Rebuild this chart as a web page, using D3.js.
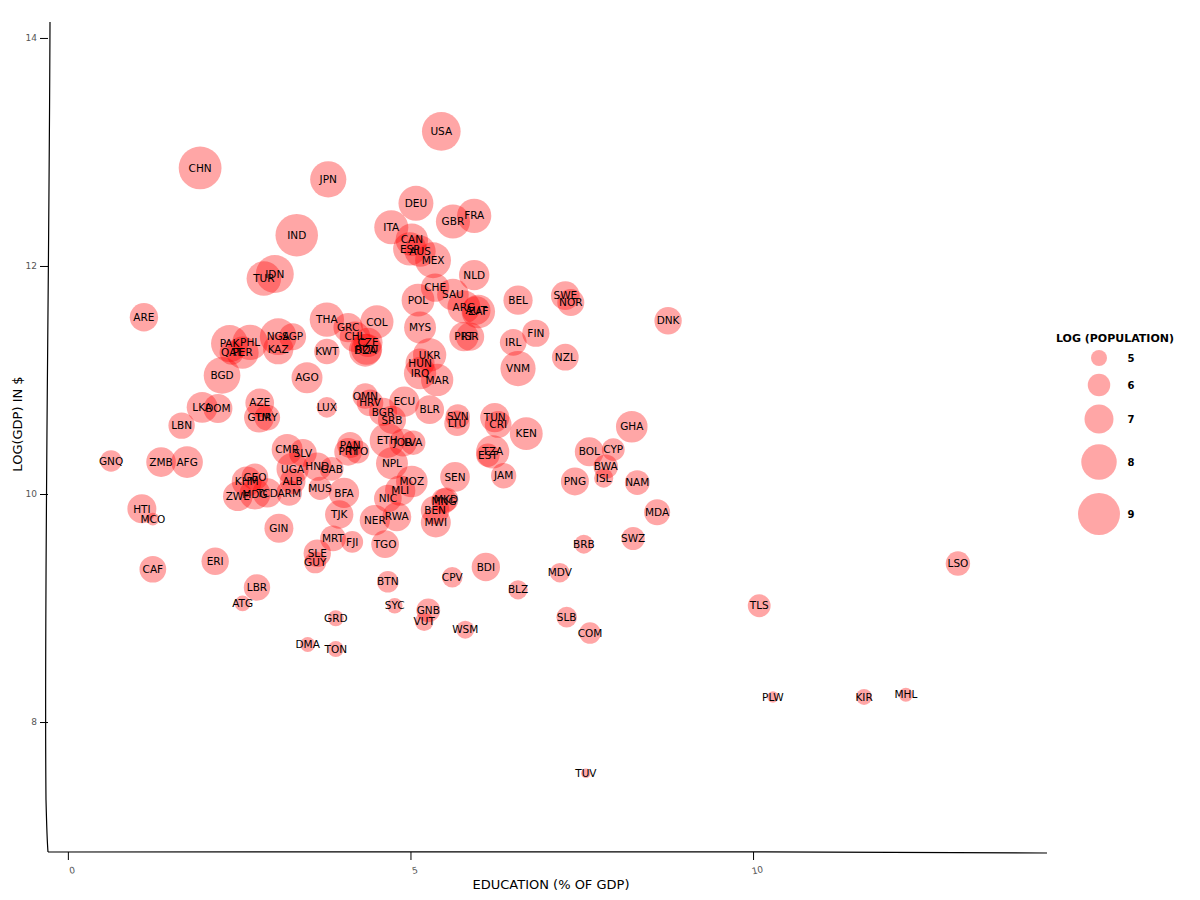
<!DOCTYPE html>
<html><head><meta charset="utf-8">
<script src="https://cdn.jsdelivr.net/npm/d3@7"></script>
<style>body{margin:0;background:#fff}svg{display:block}</style>
</head><body>
<svg id="chart" width="1200" height="900"></svg>
<script>
// country codes, education (% of GDP), log10 GDP, log10 population
const codes = ["CHN","IND","IDN","TUR","USA","JPN","DEU","FRA","GBR","ITA","CAN","ESP","AUS","MEX","NLD","CHE","SAU","POL","ARG","ZAF","AUT","PRT","ISR","COL","GRC","CHL","CZE","DZA","ROU","MYS","THA","KWT","UKR","HUN","IRQ","MAR","BEL","IRL","FIN","VNM","OMN","HRV","ECU","BGR","SRB","BLR","LUX","SVN","LTU","TUN","CRI","KEN","ETH","JOR","LVA","PAN","PRY","TTO","TZA","EST","ARE","PAK","PHL","QAT","PER","NGA","SGP","KAZ","BGD","AGO","LKA","DOM","LBN","AZE","GTM","URY","CMR","SLV","GNQ","ZMB","AFG","HTI","MCO","CAF","ERI","LBR","ATG","GIN","SLE","GUY","KHM","GEO","ZWE","MDG","TCD","ARM","ALB","UGA","HND","MUS","GAB","NPL","MOZ","MLI","NIC","BFA","TJK","NER","RWA","MRT","FJI","TGO","SEN","MNG","MKD","BEN","MWI","JAM","BDI","CPV","BTN","BLZ","SYC","GNB","VUT","WSM","GRD","DMA","TON","MDV","SLB","COM","TUV","BOL","CYP","BWA","ISL","PNG","NAM","MDA","SWZ","BRB","GHA","DNK","SWE","NOR","NZL","LSO","TLS","PLW","KIR","MHL"];
const education = [1.93,3.34,3.02,2.86,5.45,3.80,5.08,5.93,5.62,4.72,5.02,4.99,5.14,5.33,5.93,5.36,5.62,5.11,5.78,5.99,5.96,5.78,5.87,4.51,4.09,4.19,4.38,4.34,4.36,5.14,3.78,3.78,5.28,5.14,5.14,5.39,6.57,6.50,6.83,6.57,4.34,4.41,4.91,4.60,4.73,5.28,3.78,5.69,5.68,6.23,6.28,6.69,4.66,4.89,5.04,4.12,4.09,4.23,6.20,6.13,1.11,2.36,2.66,2.39,2.55,3.07,3.28,3.07,2.25,3.49,1.96,2.19,1.66,2.80,2.79,2.91,3.20,3.43,0.63,1.36,1.74,1.08,1.24,1.24,2.15,2.76,2.55,3.08,3.64,3.61,2.61,2.73,2.48,2.73,2.91,3.23,3.28,3.28,3.64,3.68,3.85,4.73,5.02,4.85,4.67,4.03,3.96,4.48,4.80,3.87,4.15,4.63,5.65,5.49,5.52,5.36,5.37,6.36,6.10,5.61,4.67,6.57,4.77,5.26,5.20,5.80,3.91,3.50,3.91,7.18,7.28,7.62,7.56,7.61,7.96,7.85,7.82,7.40,8.31,8.60,8.25,7.53,8.23,8.76,7.26,7.34,7.26,12.99,10.09,10.29,11.62,12.23];
const logGDP = [12.86,12.27,11.93,11.89,13.18,12.76,12.55,12.44,12.39,12.34,12.23,12.15,12.13,12.05,11.92,11.81,11.75,11.70,11.64,11.60,11.61,11.38,11.38,11.51,11.46,11.38,11.33,11.26,11.27,11.46,11.53,11.25,11.22,11.15,11.06,11.00,11.70,11.33,11.41,11.10,10.86,10.80,10.81,10.72,10.65,10.74,10.76,10.68,10.62,10.67,10.61,10.53,10.47,10.45,10.45,10.43,10.37,10.37,10.37,10.34,11.55,11.32,11.33,11.24,11.24,11.38,11.38,11.27,11.04,11.02,10.76,10.75,10.60,10.80,10.67,10.67,10.39,10.36,10.29,10.28,10.28,9.87,9.78,9.34,9.41,9.18,9.04,9.70,9.48,9.40,10.11,10.15,9.98,10.00,10.01,10.01,10.11,10.22,10.24,10.05,10.22,10.27,10.11,10.03,9.96,10.01,9.82,9.77,9.80,9.61,9.58,9.56,10.15,9.94,9.95,9.86,9.75,10.16,9.36,9.27,9.23,9.16,9.02,8.98,8.88,8.81,8.91,8.68,8.64,9.31,8.92,8.78,7.55,10.37,10.39,10.24,10.14,10.11,10.10,9.84,9.61,9.56,10.59,11.52,11.74,11.68,11.20,9.39,9.02,8.22,8.22,8.24];
const logPop = [9.13,9.08,8.38,7.85,8.49,8.11,7.91,7.81,7.79,7.78,7.53,7.67,7.34,8.05,7.22,6.90,7.40,7.58,7.60,7.70,6.93,7.02,6.88,7.65,7.05,7.23,7.02,7.55,7.33,7.45,7.82,6.45,7.66,7.00,7.50,7.50,7.04,6.65,6.73,7.95,6.45,6.63,7.17,6.86,6.86,6.98,5.70,6.30,6.47,7.02,6.66,7.60,7.93,6.80,6.30,6.55,6.80,6.13,7.65,6.13,6.90,8.24,7.98,6.25,7.47,8.20,6.70,7.20,8.18,7.30,7.30,7.00,6.60,6.95,7.15,6.50,7.30,6.80,5.85,7.10,7.40,7.00,4.50,6.65,6.75,6.60,4.95,7.00,6.75,5.90,7.15,6.65,7.10,7.30,7.05,6.50,6.50,7.50,6.90,6.10,6.20,7.45,7.40,7.20,6.80,7.20,6.90,7.20,7.00,6.50,5.90,6.80,7.10,6.45,6.30,6.95,7.15,6.43,6.90,5.70,5.85,5.50,4.95,6.20,5.40,5.30,5.00,4.85,5.00,5.55,5.70,5.85,4.00,7.00,6.05,6.30,5.50,6.85,6.35,6.55,6.10,5.45,7.40,6.75,6.95,6.70,6.65,6.30,6.05,4.30,5.00,4.70];
const xTicks = [0,5,10];
const yTicks = [8,10,12,14];
const legendValues = [5,6,7,8,9];

const data = codes.map((c,i)=>({code:c, edu:education[i], gdp:logGDP[i], pop:logPop[i]}));
const svg = d3.select("#chart");
const font = "'DejaVu Sans', sans-serif";

const x = d3.scaleLinear().domain([-0.29,14.29]).range([48,1047]);
const y = d3.scaleLinear().domain([6.86,14.14]).range([852,22]);
const r = d3.scaleLinear().domain([5,9]).range([8,21]);

// points
const g = svg.append("g");
g.selectAll("circle").data(data).enter().append("circle")
  .attr("cx",d=>x(d.edu)).attr("cy",d=>y(d.gdp)).attr("r",d=>r(d.pop))
  .attr("fill","#ff0000").attr("fill-opacity",0.35);
g.selectAll("text").data(data).enter().append("text")
  .attr("x",d=>x(d.edu)).attr("y",d=>y(d.gdp)).attr("dy","0.35em")
  .attr("text-anchor","middle").attr("font-family",font).attr("font-size",10.5)
  .attr("fill","#000").text(d=>d.code);

// axes
const xAxis = svg.append("g").attr("transform","translate(0,852)")
  .call(d3.axisBottom(x).tickValues(xTicks).tickSize(8).tickFormat(d3.format("d")));
const yAxis = svg.append("g").attr("transform","translate(48,0)")
  .call(d3.axisLeft(y).tickValues(yTicks).tickSize(8).tickFormat(d3.format("d")));
[xAxis,yAxis].forEach(a=>{
  a.select(".domain").remove();
  a.selectAll("line").attr("stroke","#000").attr("stroke-width",1);
  a.selectAll("text").attr("font-family",font).attr("font-size",9).attr("fill","#555");
});
xAxis.selectAll("text").attr("transform","rotate(-12)").attr("dy","1.2em");
yAxis.selectAll("text").attr("transform",function(){const t=d3.select(this);return "rotate(-80,"+(-14)+","+t.attr("y")+")";});
// hand-drawn style axis lines
svg.append("path").attr("d","M50,22 C49,300 44,600 46,800 Q47,840 48,852")
  .attr("fill","none").attr("stroke","#000").attr("stroke-width",1.2);
svg.append("path").attr("d","M48,852 C300,854 700,850 1047,853")
  .attr("fill","none").attr("stroke","#000").attr("stroke-width",1.2);

svg.append("text").attr("x",551).attr("y",889).attr("text-anchor","middle")
  .attr("font-family",font).attr("font-size",13).text("EDUCATION (% OF GDP)");
svg.append("text").attr("transform","translate(22,424) rotate(-90)").attr("text-anchor","middle")
  .attr("font-family",font).attr("font-size",13).text("LOG(GDP) IN $");

// legend
const lg = svg.append("g");
lg.append("text").attr("x",1115).attr("y",342).attr("text-anchor","middle")
  .attr("font-family",font).attr("font-size",11).attr("font-weight","bold").text("LOG (POPULATION)");
const ly = [358,385,419,462,514];
legendValues.forEach((v,i)=>{
  lg.append("circle").attr("cx",1099).attr("cy",ly[i]).attr("r",r(v))
    .attr("fill","#ff0000").attr("fill-opacity",0.35);
  lg.append("text").attr("x",1131).attr("y",ly[i]).attr("dy","0.35em").attr("text-anchor","middle")
    .attr("font-family",font).attr("font-size",10).attr("font-weight","bold").text(v);
});
</script>
</body></html>
